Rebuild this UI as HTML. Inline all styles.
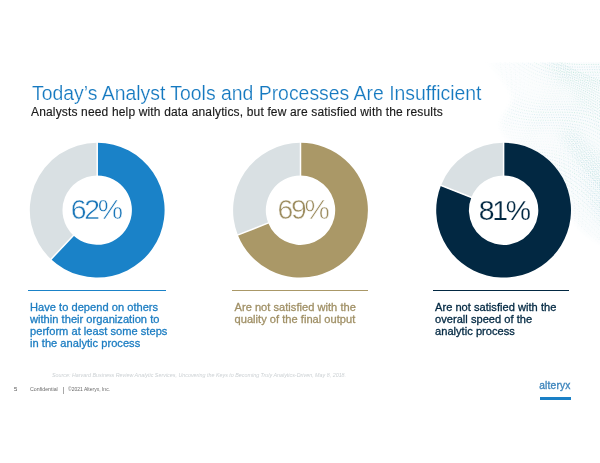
<!DOCTYPE html>
<html lang="en">
<head>
<meta charset="utf-8">
<title>Today's Analyst Tools and Processes Are Insufficient</title>
<style>
html,body{margin:0;padding:0;background:#fff;}
body{width:600px;height:463px;position:relative;overflow:hidden;font-family:"Liberation Sans",sans-serif;}
.abs{position:absolute;white-space:nowrap;}
#title{left:32px;top:81.2px;-webkit-text-stroke:0.2px #fff;font-size:19.4px;line-height:24px;color:#1579c0;letter-spacing:0px;}
#sub{left:31px;top:105px;font-size:12px;line-height:15px;color:#1a1a1a;letter-spacing:0.157px;-webkit-text-stroke-width:0.15px;}
.pct{font-size:28.4px;line-height:30px;top:194.4px;letter-spacing:-2.3px;-webkit-text-stroke:0.5px #fff;}
#p1{left:70.8px;color:#1a76b8;}
#p2{left:277.5px;color:#9c8c5f;}
#p3{left:478.8px;top:195.3px;color:#022842;-webkit-text-stroke:0.25px #fff;}
.rule{position:absolute;height:1.3px;top:290px;}
#r1{left:28px;width:137.5px;background:#1a82c8;}
#r2{left:232px;width:136px;background:#aa9867;}
#r3{left:432.8px;width:136.5px;background:#022842;}
.cap{font-size:11.1px;letter-spacing:0.02px;line-height:12px;top:300.6px;-webkit-text-stroke-width:0.3px;}
#c1{left:30px;color:#1c7dc2;}
#c2{left:234.5px;color:#a09066;}
#c3{left:435px;color:#022842;}
#src{left:52px;top:371.6px;font-size:5.37px;line-height:7px;font-style:italic;color:#ccd1d4;}
#pg{left:14px;top:384.9px;font-size:6px;line-height:8px;color:#555;}
#conf{left:30px;top:386px;font-size:5.25px;line-height:7px;color:#6a6a6a;}
#bar{left:62.4px;top:385.5px;font-size:7.4px;line-height:8px;color:#777;}
#copy{left:68px;top:386px;font-size:5px;line-height:7px;color:#6a6a6a;}
#logo{left:539.2px;top:379.6px;font-size:10.2px;line-height:12px;color:#3f86bd;letter-spacing:0.2px;-webkit-text-stroke-width:0.35px;}
#logobar{position:absolute;left:539.6px;top:396.6px;width:31.3px;height:3.2px;background:#1a80c6;}
svg{position:absolute;left:0;top:0;}
</style>
</head>
<body>
<svg width="600" height="463" viewBox="0 0 600 463">
<defs><filter id="bl" x="-20%" y="-20%" width="140%" height="140%"><feGaussianBlur stdDeviation="2.5"/></filter><filter id="bl2" x="-20%" y="-20%" width="140%" height="140%"><feGaussianBlur stdDeviation="6"/></filter><linearGradient id="mg" gradientUnits="userSpaceOnUse" x1="485" y1="0" x2="565" y2="0"><stop offset="0" stop-color="#777"/><stop offset="1" stop-color="#fff"/></linearGradient><mask id="wm" maskUnits="userSpaceOnUse" x="470" y="50" width="140" height="210"><path filter="url(#bl)" fill="url(#mg)" d="M488 60C493 72 509 84 512 96C514 108 500 114 500 126C503 140 520 150 540 165C556 180 568 215 582 230C590 238 600 243 610 246L610 50Z"/></mask><mask id="wm2" maskUnits="userSpaceOnUse" x="470" y="50" width="140" height="210"><path filter="url(#bl2)" fill="#fff" d="M540 55C560 80 580 105 612 135L612 55Z"/><path filter="url(#bl2)" fill="#fff" d="M560 135C572 150 585 180 590 200C594 215 600 225 612 232L612 165C600 155 585 140 575 130Z"/></mask><clipPath id="wc"><rect x="470" y="62.5" width="130" height="190"/></clipPath></defs>
<g clip-path="url(#wc)">
<g mask="url(#wm)">
<rect x="470" y="62.5" width="130" height="190" fill="#fafcfd"/>
<path d="M470.0 -23.8L478.3 -18.7L486.7 -12.5L495.0 -5.5L503.3 2.2L511.7 10.1L520.0 17.9L528.3 25.4L536.7 32.2L545.0 38.0L553.3 42.8L561.7 46.5L570.0 49.0L578.3 50.5L586.7 51.1L595.0 51.2L603.3 51.1L611.7 51.1L620.0 51.4" fill="none" stroke="#8fc4d6" stroke-width="0.8" stroke-dasharray="0.9 1.5" opacity="0.18"/>
<path d="M470.0 -20.0L478.3 -14.6L486.7 -8.2L495.0 -1.0L503.3 6.7L511.7 14.6L520.0 22.4L528.3 29.8L536.7 36.3L545.0 42.0L553.3 46.5L561.7 49.8L570.0 52.1L578.3 53.3L586.7 53.8L595.0 53.9L603.3 53.7L611.7 53.8L620.0 54.3" fill="none" stroke="#8fc4d6" stroke-width="0.8" stroke-dasharray="0.9 1.5" opacity="0.24"/>
<path d="M470.0 -16.1L478.3 -10.5L486.7 -3.8L495.0 3.5L503.3 11.3L511.7 19.2L520.0 26.9L528.3 34.1L536.7 40.5L545.0 45.8L553.3 50.1L561.7 53.1L570.0 55.1L578.3 56.2L586.7 56.5L595.0 56.5L603.3 56.4L611.7 56.5L620.0 57.2" fill="none" stroke="#86d2bd" stroke-width="0.8" stroke-dasharray="0.9 1.5" opacity="0.30"/>
<path d="M470.0 -12.2L478.3 -6.3L486.7 0.5L495.0 8.0L503.3 15.9L511.7 23.8L520.0 31.4L528.3 38.4L536.7 44.5L545.0 49.6L553.3 53.6L561.7 56.4L570.0 58.1L578.3 59.0L586.7 59.2L595.0 59.1L603.3 59.0L611.7 59.2L620.0 60.1" fill="none" stroke="#8fc4d6" stroke-width="0.8" stroke-dasharray="0.9 1.5" opacity="0.36"/>
<path d="M470.0 -8.2L478.3 -2.1L486.7 5.0L495.0 12.6L503.3 20.5L511.7 28.3L520.0 35.8L528.3 42.6L536.7 48.5L545.0 53.3L553.3 57.0L561.7 59.6L570.0 61.1L578.3 61.7L586.7 61.9L595.0 61.7L603.3 61.7L611.7 62.0L620.0 63.1" fill="none" stroke="#8fc4d6" stroke-width="0.8" stroke-dasharray="0.9 1.5" opacity="0.41"/>
<path d="M470.0 -4.1L478.3 2.2L486.7 9.4L495.0 17.1L503.3 25.0L511.7 32.8L520.0 40.2L528.3 46.8L536.7 52.4L545.0 57.0L553.3 60.4L561.7 62.7L570.0 63.9L578.3 64.5L586.7 64.5L595.0 64.4L603.3 64.4L611.7 64.9L620.0 66.2" fill="none" stroke="#86d2bd" stroke-width="0.8" stroke-dasharray="0.9 1.5" opacity="0.45"/>
<path d="M470.0 -0.0L478.3 6.6L486.7 13.9L495.0 21.7L503.3 29.6L511.7 37.3L520.0 44.5L528.3 50.9L536.7 56.3L545.0 60.6L553.3 63.7L561.7 65.7L570.0 66.8L578.3 67.2L586.7 67.1L595.0 67.0L603.3 67.1L611.7 67.8L620.0 69.3" fill="none" stroke="#8fc4d6" stroke-width="0.8" stroke-dasharray="0.9 1.5" opacity="0.48"/>
<path d="M470.0 4.1L478.3 10.9L486.7 18.4L495.0 26.3L503.3 34.2L511.7 41.8L520.0 48.8L528.3 55.0L536.7 60.1L545.0 64.1L553.3 66.9L561.7 68.7L570.0 69.6L578.3 69.8L586.7 69.7L595.0 69.6L603.3 69.9L611.7 70.7L620.0 72.4" fill="none" stroke="#8fc4d6" stroke-width="0.8" stroke-dasharray="0.9 1.5" opacity="0.48"/>
<path d="M470.0 8.4L478.3 15.4L486.7 22.9L495.0 30.8L503.3 38.7L511.7 46.2L520.0 53.0L528.3 59.0L536.7 63.8L545.0 67.6L553.3 70.1L561.7 71.7L570.0 72.4L578.3 72.5L586.7 72.4L595.0 72.3L603.3 72.7L611.7 73.7L620.0 75.7" fill="none" stroke="#86d2bd" stroke-width="0.8" stroke-dasharray="0.9 1.5" opacity="0.46"/>
<path d="M470.0 12.7L478.3 19.8L486.7 27.5L495.0 35.4L503.3 43.2L511.7 50.6L520.0 57.2L528.3 62.9L536.7 67.5L545.0 70.9L553.3 73.2L561.7 74.6L570.0 75.1L578.3 75.1L586.7 75.0L595.0 75.0L603.3 75.5L611.7 76.7L620.0 79.0" fill="none" stroke="#8fc4d6" stroke-width="0.8" stroke-dasharray="0.9 1.5" opacity="0.42"/>
<path d="M470.0 17.0L478.3 24.3L486.7 32.1L495.0 40.0L503.3 47.7L511.7 54.9L520.0 61.4L528.3 66.8L536.7 71.1L545.0 74.2L553.3 76.3L561.7 77.4L570.0 77.8L578.3 77.8L586.7 77.6L595.0 77.7L603.3 78.4L611.7 79.8L620.0 82.3" fill="none" stroke="#8fc4d6" stroke-width="0.8" stroke-dasharray="0.9 1.5" opacity="0.36"/>
<path d="M470.0 21.4L478.3 28.8L486.7 36.6L495.0 44.5L503.3 52.2L511.7 59.2L520.0 65.4L528.3 70.6L536.7 74.6L545.0 77.5L553.3 79.3L561.7 80.2L570.0 80.5L578.3 80.4L586.7 80.3L595.0 80.5L603.3 81.3L611.7 83.0L620.0 85.7" fill="none" stroke="#86d2bd" stroke-width="0.8" stroke-dasharray="0.9 1.5" opacity="0.30"/>
<path d="M470.0 25.8L478.3 33.3L486.7 41.2L495.0 49.1L503.3 56.6L511.7 63.5L520.0 69.4L528.3 74.3L536.7 78.1L545.0 80.7L553.3 82.3L561.7 83.0L570.0 83.1L578.3 83.0L586.7 82.9L595.0 83.3L603.3 84.3L611.7 86.2L620.0 89.2" fill="none" stroke="#8fc4d6" stroke-width="0.8" stroke-dasharray="0.9 1.5" opacity="0.24"/>
<path d="M470.0 30.2L478.3 37.9L486.7 45.8L495.0 53.6L503.3 61.0L511.7 67.7L520.0 73.4L528.3 78.0L536.7 81.5L545.0 83.8L553.3 85.2L561.7 85.7L570.0 85.8L578.3 85.6L586.7 85.6L595.0 86.1L603.3 87.3L611.7 89.5L620.0 92.8" fill="none" stroke="#8fc4d6" stroke-width="0.8" stroke-dasharray="0.9 1.5" opacity="0.19"/>
<path d="M470.0 34.7L478.3 42.5L486.7 50.4L495.0 58.1L503.3 65.3L511.7 71.8L520.0 77.3L528.3 81.6L536.7 84.8L545.0 86.9L553.3 88.0L561.7 88.4L570.0 88.4L578.3 88.3L586.7 88.3L595.0 89.0L603.3 90.4L611.7 92.9L620.0 96.4" fill="none" stroke="#86d2bd" stroke-width="0.8" stroke-dasharray="0.9 1.5" opacity="0.14"/>
<path d="M470.0 39.2L478.3 47.0L486.7 54.9L495.0 62.6L503.3 69.7L511.7 75.9L520.0 81.1L528.3 85.2L536.7 88.1L545.0 89.9L553.3 90.8L561.7 91.1L570.0 91.0L578.3 90.9L586.7 91.1L595.0 91.9L603.3 93.6L611.7 96.3L620.0 100.1" fill="none" stroke="#8fc4d6" stroke-width="0.8" stroke-dasharray="0.9 1.5" opacity="0.12"/>
<path d="M470.0 43.7L478.3 51.6L486.7 59.5L495.0 67.0L503.3 73.9L511.7 79.9L520.0 84.8L528.3 88.6L536.7 91.3L545.0 92.9L553.3 93.6L561.7 93.8L570.0 93.6L578.3 93.6L586.7 93.9L595.0 94.9L603.3 96.8L611.7 99.8L620.0 103.9" fill="none" stroke="#8fc4d6" stroke-width="0.8" stroke-dasharray="0.9 1.5" opacity="0.12"/>
<path d="M470.0 48.3L478.3 56.2L486.7 64.0L495.0 71.4L503.3 78.1L511.7 83.9L520.0 88.5L528.3 92.0L536.7 94.4L545.0 95.8L553.3 96.3L561.7 96.4L570.0 96.3L578.3 96.3L586.7 96.7L595.0 97.9L603.3 100.0L611.7 103.3L620.0 107.7" fill="none" stroke="#86d2bd" stroke-width="0.8" stroke-dasharray="0.9 1.5" opacity="0.14"/>
<path d="M470.0 52.8L478.3 60.8L486.7 68.5L495.0 75.8L503.3 82.3L511.7 87.8L520.0 92.1L528.3 95.3L536.7 97.5L545.0 98.6L553.3 99.0L561.7 99.0L570.0 98.9L578.3 99.0L586.7 99.6L595.0 101.0L603.3 103.4L611.7 106.9L620.0 111.6" fill="none" stroke="#8fc4d6" stroke-width="0.8" stroke-dasharray="0.9 1.5" opacity="0.18"/>
<path d="M470.0 57.4L478.3 65.3L486.7 73.0L495.0 80.1L503.3 86.3L511.7 91.6L520.0 95.7L528.3 98.6L536.7 100.5L545.0 101.4L553.3 101.7L561.7 101.7L570.0 101.5L578.3 101.7L586.7 102.5L595.0 104.1L603.3 106.8L611.7 110.6L620.0 115.6" fill="none" stroke="#8fc4d6" stroke-width="0.8" stroke-dasharray="0.9 1.5" opacity="0.24"/>
<path d="M470.0 62.0L478.3 69.9L486.7 77.4L495.0 84.3L503.3 90.4L511.7 95.3L520.0 99.1L528.3 101.8L536.7 103.4L545.0 104.2L553.3 104.4L561.7 104.3L570.0 104.2L578.3 104.5L586.7 105.5L595.0 107.3L603.3 110.3L611.7 114.4L620.0 119.6" fill="none" stroke="#86d2bd" stroke-width="0.8" stroke-dasharray="0.9 1.5" opacity="0.30"/>
<path d="M470.0 66.6L478.3 74.4L486.7 81.8L495.0 88.5L503.3 94.3L511.7 99.0L520.0 102.6L528.3 105.0L536.7 106.4L545.0 107.0L553.3 107.0L561.7 106.9L570.0 106.9L578.3 107.3L586.7 108.5L595.0 110.6L603.3 113.8L611.7 118.2L620.0 123.7" fill="none" stroke="#8fc4d6" stroke-width="0.8" stroke-dasharray="0.9 1.5" opacity="0.36"/>
<path d="M470.0 71.2L478.3 78.9L486.7 86.2L495.0 92.7L503.3 98.2L511.7 102.6L520.0 105.9L528.3 108.0L536.7 109.2L545.0 109.7L553.3 109.7L561.7 109.5L570.0 109.6L578.3 110.2L586.7 111.6L595.0 113.9L603.3 117.4L611.7 122.1L620.0 127.9" fill="none" stroke="#8fc4d6" stroke-width="0.8" stroke-dasharray="0.9 1.5" opacity="0.42"/>
<path d="M470.0 75.7L478.3 83.4L486.7 90.5L495.0 96.8L503.3 102.1L511.7 106.2L520.0 109.2L528.3 111.1L536.7 112.1L545.0 112.4L553.3 112.3L561.7 112.2L570.0 112.3L578.3 113.1L586.7 114.7L595.0 117.3L603.3 121.1L611.7 126.1L620.0 132.1" fill="none" stroke="#86d2bd" stroke-width="0.8" stroke-dasharray="0.9 1.5" opacity="0.46"/>
<path d="M470.0 80.3L478.3 87.8L486.7 94.8L495.0 100.8L503.3 105.8L511.7 109.7L520.0 112.4L528.3 114.0L536.7 114.8L545.0 115.0L553.3 114.9L561.7 114.8L570.0 115.1L578.3 116.0L586.7 117.9L595.0 120.8L603.3 124.9L611.7 130.1L620.0 136.3" fill="none" stroke="#8fc4d6" stroke-width="0.8" stroke-dasharray="0.9 1.5" opacity="0.48"/>
<path d="M470.0 84.8L478.3 92.2L486.7 99.0L495.0 104.8L503.3 109.5L511.7 113.1L520.0 115.5L528.3 117.0L536.7 117.6L545.0 117.7L553.3 117.5L561.7 117.5L570.0 117.9L578.3 119.1L586.7 121.1L595.0 124.3L603.3 128.7L611.7 134.2L620.0 140.6" fill="none" stroke="#8fc4d6" stroke-width="0.8" stroke-dasharray="0.9 1.5" opacity="0.48"/>
<path d="M470.0 89.3L478.3 96.6L486.7 103.1L495.0 108.7L503.3 113.2L511.7 116.4L520.0 118.6L528.3 119.8L536.7 120.3L545.0 120.3L553.3 120.2L561.7 120.2L570.0 120.8L578.3 122.1L586.7 124.5L595.0 127.9L603.3 132.6L611.7 138.3L620.0 145.0" fill="none" stroke="#86d2bd" stroke-width="0.8" stroke-dasharray="0.9 1.5" opacity="0.46"/>
<path d="M470.0 93.8L478.3 100.9L486.7 107.2L495.0 112.5L503.3 116.7L511.7 119.7L520.0 121.7L528.3 122.7L536.7 123.0L545.0 122.9L553.3 122.8L561.7 122.9L570.0 123.7L578.3 125.3L586.7 127.9L595.0 131.6L603.3 136.5L611.7 142.5L620.0 149.4" fill="none" stroke="#8fc4d6" stroke-width="0.8" stroke-dasharray="0.9 1.5" opacity="0.41"/>
<path d="M470.0 98.2L478.3 105.2L486.7 111.3L495.0 116.3L503.3 120.2L511.7 122.9L520.0 124.6L528.3 125.5L536.7 125.7L545.0 125.5L553.3 125.5L561.7 125.7L570.0 126.6L578.3 128.4L586.7 131.3L595.0 135.4L603.3 140.5L611.7 146.8L620.0 153.8" fill="none" stroke="#8fc4d6" stroke-width="0.8" stroke-dasharray="0.9 1.5" opacity="0.36"/>
<path d="M470.0 102.6L478.3 109.4L486.7 115.3L495.0 120.0L503.3 123.6L511.7 126.1L520.0 127.6L528.3 128.2L536.7 128.3L545.0 128.2L553.3 128.1L561.7 128.5L570.0 129.6L578.3 131.7L586.7 134.9L595.0 139.2L603.3 144.6L611.7 151.0L620.0 158.3" fill="none" stroke="#86d2bd" stroke-width="0.8" stroke-dasharray="0.9 1.5" opacity="0.30"/>
<path d="M470.0 107.0L478.3 113.6L486.7 119.2L495.0 123.7L503.3 127.0L511.7 129.2L520.0 130.4L528.3 130.9L536.7 130.9L545.0 130.8L553.3 130.8L561.7 131.4L570.0 132.7L578.3 135.0L586.7 138.5L595.0 143.0L603.3 148.7L611.7 155.4L620.0 162.8" fill="none" stroke="#8fc4d6" stroke-width="0.8" stroke-dasharray="0.9 1.5" opacity="0.24"/>
<path d="M470.0 111.3L478.3 117.7L486.7 123.0L495.0 127.2L503.3 130.3L511.7 132.2L520.0 133.3L528.3 133.6L536.7 133.6L545.0 133.4L553.3 133.6L561.7 134.3L570.0 135.8L578.3 138.4L586.7 142.1L595.0 147.0L603.3 152.9L611.7 159.8L620.0 167.3" fill="none" stroke="#8fc4d6" stroke-width="0.8" stroke-dasharray="0.9 1.5" opacity="0.18"/>
<path d="M470.0 115.6L478.3 121.7L486.7 126.8L495.0 130.7L503.3 133.5L511.7 135.2L520.0 136.1L528.3 136.3L536.7 136.2L545.0 136.1L553.3 136.3L561.7 137.2L570.0 139.0L578.3 141.9L586.7 145.9L595.0 151.0L603.3 157.2L611.7 164.2L620.0 171.8" fill="none" stroke="#86d2bd" stroke-width="0.8" stroke-dasharray="0.9 1.5" opacity="0.14"/>
<path d="M470.0 119.9L478.3 125.7L486.7 130.5L495.0 134.2L503.3 136.7L511.7 138.2L520.0 138.8L528.3 138.9L536.7 138.8L545.0 138.8L553.3 139.1L561.7 140.2L570.0 142.2L578.3 145.4L586.7 149.7L595.0 155.1L603.3 161.5L611.7 168.7L620.0 176.4" fill="none" stroke="#8fc4d6" stroke-width="0.8" stroke-dasharray="0.9 1.5" opacity="0.12"/>
<path d="M470.0 124.0L478.3 129.7L486.7 134.2L495.0 137.5L503.3 139.8L511.7 141.0L520.0 141.5L528.3 141.6L536.7 141.4L545.0 141.5L553.3 142.0L561.7 143.3L570.0 145.6L578.3 149.0L586.7 153.5L595.0 159.2L603.3 165.8L611.7 173.2L620.0 181.0" fill="none" stroke="#8fc4d6" stroke-width="0.8" stroke-dasharray="0.9 1.5" opacity="0.12"/>
<path d="M470.0 128.1L478.3 133.5L486.7 137.8L495.0 140.8L503.3 142.8L511.7 143.9L520.0 144.2L528.3 144.2L536.7 144.1L545.0 144.2L553.3 144.9L561.7 146.4L570.0 148.9L578.3 152.6L586.7 157.5L595.0 163.4L603.3 170.2L611.7 177.7L620.0 185.5" fill="none" stroke="#86d2bd" stroke-width="0.8" stroke-dasharray="0.9 1.5" opacity="0.15"/>
<path d="M470.0 132.2L478.3 137.3L486.7 141.3L495.0 144.1L503.3 145.8L511.7 146.7L520.0 146.9L528.3 146.8L536.7 146.7L545.0 146.9L553.3 147.8L561.7 149.6L570.0 152.4L578.3 156.3L586.7 161.5L595.0 167.6L603.3 174.6L611.7 182.2L620.0 190.1" fill="none" stroke="#8fc4d6" stroke-width="0.8" stroke-dasharray="0.9 1.5" opacity="0.19"/>
<path d="M470.0 136.2L478.3 141.0L486.7 144.7L495.0 147.2L503.3 148.8L511.7 149.4L520.0 149.6L528.3 149.4L536.7 149.4L545.0 149.7L553.3 150.8L561.7 152.8L570.0 155.9L578.3 160.1L586.7 165.5L595.0 171.9L603.3 179.1L611.7 186.8L620.0 194.7" fill="none" stroke="#8fc4d6" stroke-width="0.8" stroke-dasharray="0.9 1.5" opacity="0.24"/>
<path d="M470.0 140.1L478.3 144.7L486.7 148.1L495.0 150.4L503.3 151.7L511.7 152.2L520.0 152.2L528.3 152.1L536.7 152.1L545.0 152.6L553.3 153.9L561.7 156.1L570.0 159.5L578.3 164.0L586.7 169.6L595.0 176.2L603.3 183.6L611.7 191.3L620.0 199.3" fill="none" stroke="#86d2bd" stroke-width="0.8" stroke-dasharray="0.9 1.5" opacity="0.30"/>
<path d="M470.0 144.0L478.3 148.3L486.7 151.4L495.0 153.4L503.3 154.5L511.7 154.9L520.0 154.8L528.3 154.7L536.7 154.8L545.0 155.5L553.3 157.0L561.7 159.5L570.0 163.1L578.3 167.9L586.7 173.8L595.0 180.6L603.3 188.1L611.7 195.9L620.0 203.8" fill="none" stroke="#8fc4d6" stroke-width="0.8" stroke-dasharray="0.9 1.5" opacity="0.36"/>
<path d="M470.0 147.8L478.3 151.8L486.7 154.6L495.0 156.4L503.3 157.3L511.7 157.5L520.0 157.4L528.3 157.3L536.7 157.6L545.0 158.4L553.3 160.1L561.7 162.9L570.0 166.8L578.3 171.9L586.7 178.0L595.0 185.0L603.3 192.6L611.7 200.5L620.0 208.4" fill="none" stroke="#8fc4d6" stroke-width="0.8" stroke-dasharray="0.9 1.5" opacity="0.42"/>
<path d="M470.0 151.5L478.3 155.2L486.7 157.8L495.0 159.4L503.3 160.1L511.7 160.2L520.0 160.1L528.3 160.0L536.7 160.4L545.0 161.4L553.3 163.4L561.7 166.4L570.0 170.6L578.3 176.0L586.7 182.3L595.0 189.5L603.3 197.2L611.7 205.1L620.0 212.9" fill="none" stroke="#86d2bd" stroke-width="0.8" stroke-dasharray="0.9 1.5" opacity="0.46"/>
<path d="M470.0 155.2L478.3 158.6L486.7 160.9L495.0 162.3L503.3 162.8L511.7 162.8L520.0 162.7L528.3 162.7L536.7 163.2L545.0 164.4L553.3 166.6L561.7 170.0L570.0 174.5L578.3 180.1L586.7 186.6L595.0 194.0L603.3 201.7L611.7 209.7L620.0 217.4" fill="none" stroke="#8fc4d6" stroke-width="0.8" stroke-dasharray="0.9 1.5" opacity="0.48"/>
<path d="M470.0 158.8L478.3 161.9L486.7 164.0L495.0 165.1L503.3 165.5L511.7 165.5L520.0 165.3L528.3 165.4L536.7 166.1L545.0 167.5L553.3 170.0L561.7 173.6L570.0 178.4L578.3 184.2L586.7 191.0L595.0 198.5L603.3 206.3L611.7 214.2L620.0 221.8" fill="none" stroke="#8fc4d6" stroke-width="0.8" stroke-dasharray="0.9 1.5" opacity="0.48"/>
<path d="M470.0 162.3L478.3 165.2L486.7 167.0L495.0 167.9L503.3 168.2L511.7 168.1L520.0 168.0L528.3 168.2L536.7 169.0L545.0 170.7L553.3 173.4L561.7 177.3L570.0 182.4L578.3 188.5L586.7 195.4L595.0 203.0L603.3 210.9L611.7 218.8L620.0 226.3" fill="none" stroke="#86d2bd" stroke-width="0.8" stroke-dasharray="0.9 1.5" opacity="0.45"/>
<path d="M470.0 165.8L478.3 168.4L486.7 170.0L495.0 170.7L503.3 170.8L511.7 170.7L520.0 170.6L528.3 171.0L536.7 172.0L545.0 173.9L553.3 176.9L561.7 181.1L570.0 186.4L578.3 192.7L586.7 199.9L595.0 207.6L603.3 215.5L611.7 223.3L620.0 230.7" fill="none" stroke="#8fc4d6" stroke-width="0.8" stroke-dasharray="0.9 1.5" opacity="0.41"/>
<path d="M470.0 169.2L478.3 171.5L486.7 172.9L495.0 173.4L503.3 173.5L511.7 173.3L520.0 173.3L528.3 173.8L536.7 175.0L545.0 177.2L553.3 180.5L561.7 184.9L570.0 190.5L578.3 197.1L586.7 204.4L595.0 212.1L603.3 220.0L611.7 227.8L620.0 235.0" fill="none" stroke="#8fc4d6" stroke-width="0.8" stroke-dasharray="0.9 1.5" opacity="0.36"/>
<path d="M470.0 172.5L478.3 174.6L486.7 175.7L495.0 176.1L503.3 176.1L511.7 176.0L520.0 176.0L528.3 176.7L536.7 178.1L545.0 180.5L553.3 184.1L561.7 188.9L570.0 194.7L578.3 201.4L586.7 208.9L595.0 216.7L603.3 224.6L611.7 232.2L620.0 239.3" fill="none" stroke="#86d2bd" stroke-width="0.8" stroke-dasharray="0.9 1.5" opacity="0.30"/>
<path d="M470.0 175.8L478.3 177.6L486.7 178.5L495.0 178.8L503.3 178.7L511.7 178.6L520.0 178.8L528.3 179.6L536.7 181.3L545.0 184.0L553.3 187.8L561.7 192.8L570.0 198.9L578.3 205.8L586.7 213.4L595.0 221.3L603.3 229.1L611.7 236.7L620.0 243.6" fill="none" stroke="#8fc4d6" stroke-width="0.8" stroke-dasharray="0.9 1.5" opacity="0.23"/>
<path d="M470.0 178.9L478.3 180.6L486.7 181.3L495.0 181.5L503.3 181.3L511.7 181.3L520.0 181.6L528.3 182.6L536.7 184.5L545.0 187.4L553.3 191.6L561.7 196.9L570.0 203.2L578.3 210.3L586.7 217.9L595.0 225.9L603.3 233.7L611.7 241.1L620.0 247.8" fill="none" stroke="#8fc4d6" stroke-width="0.8" stroke-dasharray="0.9 1.5" opacity="0.18"/>
<path d="M470.0 182.1L478.3 183.5L486.7 184.0L495.0 184.1L503.3 184.0L511.7 184.0L520.0 184.4L528.3 185.6L536.7 187.7L545.0 191.0L553.3 195.4L561.7 201.0L570.0 207.5L578.3 214.7L586.7 222.5L595.0 230.4L603.3 238.2L611.7 245.4L620.0 251.9" fill="none" stroke="#86d2bd" stroke-width="0.8" stroke-dasharray="0.9 1.5" opacity="0.14"/>
<path d="M470.0 185.2L478.3 186.3L486.7 186.7L495.0 186.7L503.3 186.6L511.7 186.7L520.0 187.3L528.3 188.7L536.7 191.1L545.0 194.6L553.3 199.3L561.7 205.1L570.0 211.8L578.3 219.3L586.7 227.1L595.0 235.0L603.3 242.6L611.7 249.7L620.0 256.0" fill="none" stroke="#8fc4d6" stroke-width="0.8" stroke-dasharray="0.9 1.5" opacity="0.12"/>
<path d="M470.0 188.2L478.3 189.1L486.7 189.4L495.0 189.4L503.3 189.2L511.7 189.4L520.0 190.2L528.3 191.8L536.7 194.5L545.0 198.3L553.3 203.3L561.7 209.3L570.0 216.2L578.3 223.8L586.7 231.7L595.0 239.5L603.3 247.1L611.7 254.0L620.0 260.0" fill="none" stroke="#8fc4d6" stroke-width="0.8" stroke-dasharray="0.9 1.5" opacity="0.12"/>
<path d="M470.0 191.1L478.3 191.9L486.7 192.1L495.0 192.0L503.3 191.9L511.7 192.2L520.0 193.2L528.3 195.0L536.7 198.0L545.0 202.1L553.3 207.3L561.7 213.6L570.0 220.7L578.3 228.3L586.7 236.2L595.0 244.1L603.3 251.5L611.7 258.2L620.0 264.0" fill="none" stroke="#86d2bd" stroke-width="0.8" stroke-dasharray="0.9 1.5" opacity="0.15"/>
<path d="M470.0 194.1L478.3 194.7L486.7 194.7L495.0 194.6L503.3 194.6L511.7 195.0L520.0 196.2L528.3 198.3L536.7 201.5L545.0 205.9L553.3 211.4L561.7 217.9L570.0 225.1L578.3 232.9L586.7 240.8L595.0 248.6L603.3 255.8L611.7 262.4L620.0 267.9" fill="none" stroke="#8fc4d6" stroke-width="0.8" stroke-dasharray="0.9 1.5" opacity="0.19"/>
<path d="M470.0 196.9L478.3 197.4L486.7 197.4L495.0 197.2L503.3 197.3L511.7 197.9L520.0 199.2L528.3 201.6L536.7 205.1L545.0 209.8L553.3 215.5L561.7 222.2L570.0 229.6L578.3 237.5L586.7 245.4L595.0 253.0L603.3 260.2L611.7 266.4L620.0 271.7" fill="none" stroke="#8fc4d6" stroke-width="0.8" stroke-dasharray="0.9 1.5" opacity="0.24"/>
<path d="M470.0 199.8L478.3 200.1L486.7 200.0L495.0 199.9L503.3 200.0L511.7 200.8L520.0 202.4L528.3 205.0L536.7 208.8L545.0 213.7L553.3 219.7L561.7 226.6L570.0 234.2L578.3 242.0L586.7 249.9L595.0 257.5L603.3 264.4L611.7 270.5L620.0 275.5" fill="none" stroke="#86d2bd" stroke-width="0.8" stroke-dasharray="0.9 1.5" opacity="0.31"/>
<path d="M470.0 202.5L478.3 202.7L486.7 202.6L495.0 202.5L503.3 202.8L511.7 203.7L520.0 205.6L528.3 208.5L536.7 212.6L545.0 217.8L553.3 224.0L561.7 231.1L570.0 238.7L578.3 246.6L586.7 254.5L595.0 261.9L603.3 268.6L611.7 274.4L620.0 279.2" fill="none" stroke="#8fc4d6" stroke-width="0.8" stroke-dasharray="0.9 1.5" opacity="0.37"/>
<path d="M470.0 205.3L478.3 205.4L486.7 205.2L495.0 205.2L503.3 205.6L511.7 206.8L520.0 208.8L528.3 212.0L536.7 216.4L545.0 221.8L553.3 228.3L561.7 235.5L570.0 243.3L578.3 251.2L586.7 259.0L595.0 266.3L603.3 272.8L611.7 278.4L620.0 282.8" fill="none" stroke="#8fc4d6" stroke-width="0.8" stroke-dasharray="0.9 1.5" opacity="0.42"/>
<path d="M470.0 208.0L478.3 208.0L486.7 207.9L495.0 207.9L503.3 208.5L511.7 209.8L520.0 212.2L528.3 215.6L536.7 220.3L545.0 226.0L553.3 232.7L561.7 240.0L570.0 247.9L578.3 255.8L586.7 263.4L595.0 270.6L603.3 276.9L611.7 282.2L620.0 286.4" fill="none" stroke="#86d2bd" stroke-width="0.8" stroke-dasharray="0.9 1.5" opacity="0.46"/>
<path d="M470.0 210.7L478.3 210.6L486.7 210.5L495.0 210.6L503.3 211.4L511.7 212.9L520.0 215.6L528.3 219.3L536.7 224.2L545.0 230.2L553.3 237.0L561.7 244.6L570.0 252.4L578.3 260.3L586.7 267.9L595.0 274.9L603.3 280.9L611.7 286.0L620.0 289.9" fill="none" stroke="#8fc4d6" stroke-width="0.8" stroke-dasharray="0.9 1.5" opacity="0.48"/>
<path d="M470.0 213.4L478.3 213.2L486.7 213.2L495.0 213.4L503.3 214.3L511.7 216.1L520.0 219.0L528.3 223.0L536.7 228.2L545.0 234.4L553.3 241.5L561.7 249.1L570.0 257.0L578.3 264.9L586.7 272.3L595.0 279.1L603.3 284.9L611.7 289.7L620.0 293.3" fill="none" stroke="#8fc4d6" stroke-width="0.8" stroke-dasharray="0.9 1.5" opacity="0.48"/>
<path d="M500.0 62.0L501.7 72.6L503.0 83.1L503.4 93.7L502.8 104.2L500.8 114.8L497.6 125.3L493.1 135.9L487.7 146.4L481.7 157.0L475.5 167.6L469.5 178.1L464.3 188.7L460.0 199.2L456.9 209.8L455.2 220.3L454.7 230.9L455.3 241.4L456.6 252.0" fill="none" stroke="#93d8c6" stroke-width="0.6" stroke-dasharray="0.7 1.8" opacity="0.34"/>
<path d="M504.7 62.0L506.3 72.6L507.4 83.1L507.6 93.7L506.6 104.2L504.3 114.8L500.7 125.3L495.9 135.9L490.3 146.4L484.2 157.0L478.0 167.6L472.2 178.1L467.2 188.7L463.2 199.2L460.5 209.8L459.1 220.3L459.0 230.9L459.8 241.4L461.3 252.0" fill="none" stroke="#9ccbd9" stroke-width="0.6" stroke-dasharray="0.7 1.8" opacity="0.36"/>
<path d="M509.3 62.0L510.9 72.6L511.7 83.1L511.6 93.7L510.3 104.2L507.6 114.8L503.7 125.3L498.7 135.9L492.9 146.4L486.7 157.0L480.6 167.6L475.0 178.1L470.2 188.7L466.5 199.2L464.2 209.8L463.2 220.3L463.3 230.9L464.3 241.4L466.0 252.0" fill="none" stroke="#93d8c6" stroke-width="0.6" stroke-dasharray="0.7 1.8" opacity="0.35"/>
<path d="M514.0 62.0L515.4 72.6L516.0 83.1L515.6 93.7L513.9 104.2L510.9 114.8L506.7 125.3L501.4 135.9L495.5 146.4L489.3 157.0L483.2 167.6L477.8 178.1L473.3 188.7L470.0 199.2L468.0 209.8L467.3 220.3L467.7 230.9L468.9 241.4L470.6 252.0" fill="none" stroke="#9ccbd9" stroke-width="0.6" stroke-dasharray="0.7 1.8" opacity="0.30"/>
<path d="M518.6 62.0L519.8 72.6L520.2 83.1L519.5 93.7L517.4 104.2L514.1 114.8L509.5 125.3L504.0 135.9L498.0 146.4L491.8 157.0L485.9 167.6L480.7 178.1L476.5 188.7L473.5 199.2L471.9 209.8L471.5 220.3L472.2 230.9L473.6 241.4L475.3 252.0" fill="none" stroke="#93d8c6" stroke-width="0.6" stroke-dasharray="0.7 1.8" opacity="0.24"/>
<path d="M523.2 62.0L524.2 72.6L524.3 83.1L523.2 93.7L520.8 104.2L517.1 114.8L512.3 125.3L506.7 135.9L500.5 146.4L494.4 157.0L488.6 167.6L483.6 178.1L479.7 188.7L477.1 199.2L475.9 209.8L475.8 220.3L476.7 230.9L478.2 241.4L480.0 252.0" fill="none" stroke="#9ccbd9" stroke-width="0.6" stroke-dasharray="0.7 1.8" opacity="0.17"/>
<path d="M527.8 62.0L528.6 72.6L528.4 83.1L526.9 93.7L524.2 104.2L520.1 114.8L515.1 125.3L509.2 135.9L503.0 146.4L496.9 157.0L491.4 167.6L486.7 178.1L483.1 188.7L480.9 199.2L479.9 209.8L480.1 220.3L481.3 230.9L482.9 241.4L484.6 252.0" fill="none" stroke="#93d8c6" stroke-width="0.6" stroke-dasharray="0.7 1.8" opacity="0.11"/>
<path d="M532.3 62.0L532.8 72.6L532.3 83.1L530.5 93.7L527.4 104.2L523.1 114.8L517.7 125.3L511.8 135.9L505.6 146.4L499.6 157.0L494.2 167.6L489.8 178.1L486.6 188.7L484.7 199.2L484.1 209.8L484.6 220.3L485.9 230.9L487.6 241.4L489.3 252.0" fill="none" stroke="#9ccbd9" stroke-width="0.6" stroke-dasharray="0.7 1.8" opacity="0.08"/>
<path d="M536.7 62.0L537.0 72.6L536.2 83.1L534.0 93.7L530.5 104.2L525.9 114.8L520.4 125.3L514.3 135.9L508.1 146.4L502.2 157.0L497.1 167.6L493.0 178.1L490.1 188.7L488.6 199.2L488.3 209.8L489.1 220.3L490.5 230.9L492.3 241.4L493.9 252.0" fill="none" stroke="#93d8c6" stroke-width="0.6" stroke-dasharray="0.7 1.8" opacity="0.09"/>
<path d="M541.1 62.0L541.1 72.6L539.9 83.1L537.4 93.7L533.6 104.2L528.7 114.8L523.0 125.3L516.8 135.9L510.7 146.4L505.0 157.0L500.1 167.6L496.3 178.1L493.8 188.7L492.6 199.2L492.6 209.8L493.6 220.3L495.2 230.9L496.9 241.4L498.4 252.0" fill="none" stroke="#9ccbd9" stroke-width="0.6" stroke-dasharray="0.7 1.8" opacity="0.12"/>
<path d="M545.4 62.0L545.1 72.6L543.6 83.1L540.7 93.7L536.6 104.2L531.4 114.8L525.5 125.3L519.3 135.9L513.3 146.4L507.7 157.0L503.1 167.6L499.7 178.1L497.5 188.7L496.7 199.2L497.0 209.8L498.2 220.3L499.8 230.9L501.6 241.4L502.9 252.0" fill="none" stroke="#93d8c6" stroke-width="0.6" stroke-dasharray="0.7 1.8" opacity="0.18"/>
<path d="M549.6 62.0L549.0 72.6L547.1 83.1L543.9 93.7L539.5 104.2L534.1 114.8L528.1 125.3L521.9 135.9L515.9 146.4L510.6 157.0L506.3 167.6L503.2 178.1L501.4 188.7L500.9 199.2L501.5 209.8L502.8 220.3L504.5 230.9L506.2 241.4L507.4 252.0" fill="none" stroke="#9ccbd9" stroke-width="0.6" stroke-dasharray="0.7 1.8" opacity="0.25"/>
<path d="M553.8 62.0L552.8 72.6L550.6 83.1L547.0 93.7L542.3 104.2L536.7 114.8L530.6 125.3L524.4 135.9L518.6 146.4L513.5 157.0L509.5 167.6L506.8 178.1L505.3 188.7L505.1 199.2L506.0 209.8L507.4 220.3L509.2 230.9L510.8 241.4L511.8 252.0" fill="none" stroke="#93d8c6" stroke-width="0.6" stroke-dasharray="0.7 1.8" opacity="0.31"/>
<path d="M557.8 62.0L556.6 72.6L553.9 83.1L550.0 93.7L545.1 104.2L539.3 114.8L533.1 125.3L527.0 135.9L521.3 146.4L516.5 157.0L512.8 167.6L510.4 178.1L509.4 188.7L509.5 199.2L510.5 209.8L512.1 220.3L513.9 230.9L515.3 241.4L516.1 252.0" fill="none" stroke="#9ccbd9" stroke-width="0.6" stroke-dasharray="0.7 1.8" opacity="0.35"/>
<path d="M561.8 62.0L560.2 72.6L557.2 83.1L553.0 93.7L547.8 104.2L541.8 114.8L535.6 125.3L529.6 135.9L524.1 146.4L519.6 157.0L516.3 167.6L514.2 178.1L513.5 188.7L513.9 199.2L515.1 209.8L516.8 220.3L518.5 230.9L519.8 241.4L520.3 252.0" fill="none" stroke="#93d8c6" stroke-width="0.6" stroke-dasharray="0.7 1.8" opacity="0.36"/>
<path d="M565.7 62.0L563.7 72.6L560.4 83.1L555.9 93.7L550.4 104.2L544.4 114.8L538.2 125.3L532.3 135.9L527.0 146.4L522.8 157.0L519.8 167.6L518.1 178.1L517.7 188.7L518.3 199.2L519.7 209.8L521.5 220.3L523.1 230.9L524.3 241.4L524.5 252.0" fill="none" stroke="#9ccbd9" stroke-width="0.6" stroke-dasharray="0.7 1.8" opacity="0.33"/>
<path d="M569.5 62.0L567.1 72.6L563.5 83.1L558.7 93.7L553.0 104.2L546.9 114.8L540.7 125.3L535.0 135.9L530.0 146.4L526.0 157.0L523.4 167.6L522.1 178.1L522.0 188.7L522.9 199.2L524.4 209.8L526.1 220.3L527.7 230.9L528.6 241.4L528.6 252.0" fill="none" stroke="#93d8c6" stroke-width="0.6" stroke-dasharray="0.7 1.8" opacity="0.28"/>
<path d="M573.2 62.0L570.5 72.6L566.5 83.1L561.4 93.7L555.6 104.2L549.4 114.8L543.3 125.3L537.7 135.9L533.0 146.4L529.4 157.0L527.1 167.6L526.1 178.1L526.3 188.7L527.4 199.2L529.1 209.8L530.8 220.3L532.2 230.9L532.9 241.4L532.6 252.0" fill="none" stroke="#9ccbd9" stroke-width="0.6" stroke-dasharray="0.7 1.8" opacity="0.21"/>
<path d="M576.8 62.0L573.7 72.6L569.4 83.1L564.1 93.7L558.2 104.2L552.0 114.8L545.9 125.3L540.5 135.9L536.1 146.4L532.9 157.0L530.9 167.6L530.3 178.1L530.7 188.7L532.0 199.2L533.7 209.8L535.4 220.3L536.7 230.9L537.1 241.4L536.5 252.0" fill="none" stroke="#93d8c6" stroke-width="0.6" stroke-dasharray="0.7 1.8" opacity="0.14"/>
<path d="M580.3 62.0L576.9 72.6L572.3 83.1L566.8 93.7L560.7 104.2L554.5 114.8L548.6 125.3L543.4 135.9L539.3 146.4L536.4 157.0L534.8 167.6L534.5 178.1L535.2 188.7L536.7 199.2L538.4 209.8L540.0 220.3L541.1 230.9L541.3 241.4L540.3 252.0" fill="none" stroke="#9ccbd9" stroke-width="0.6" stroke-dasharray="0.7 1.8" opacity="0.10"/>
<path d="M583.7 62.0L579.9 72.6L575.1 83.1L569.4 93.7L563.2 104.2L557.1 114.8L551.3 125.3L546.4 135.9L542.6 146.4L540.0 157.0L538.8 167.6L538.8 178.1L539.8 188.7L541.3 199.2L543.1 209.8L544.6 220.3L545.5 230.9L545.3 241.4L544.0 252.0" fill="none" stroke="#93d8c6" stroke-width="0.6" stroke-dasharray="0.7 1.8" opacity="0.08"/>
<path d="M587.0 62.0L582.9 72.6L577.8 83.1L571.9 93.7L565.7 104.2L559.6 114.8L554.1 125.3L549.5 135.9L546.0 146.4L543.8 157.0L542.9 167.6L543.2 178.1L544.3 188.7L546.0 199.2L547.7 209.8L549.1 220.3L549.7 230.9L549.3 241.4L547.6 252.0" fill="none" stroke="#9ccbd9" stroke-width="0.6" stroke-dasharray="0.7 1.8" opacity="0.10"/>
<path d="M590.2 62.0L585.8 72.6L580.5 83.1L574.5 93.7L568.3 104.2L562.3 114.8L556.9 125.3L552.6 135.9L549.4 146.4L547.6 157.0L547.1 167.6L547.6 178.1L549.0 188.7L550.7 199.2L552.4 209.8L553.6 220.3L553.9 230.9L553.2 241.4L551.1 252.0" fill="none" stroke="#93d8c6" stroke-width="0.6" stroke-dasharray="0.7 1.8" opacity="0.14"/>
<path d="M593.3 62.0L588.7 72.6L583.1 83.1L577.0 93.7L570.8 104.2L565.0 114.8L559.9 125.3L555.8 135.9L553.0 146.4L551.6 157.0L551.3 167.6L552.1 178.1L553.6 188.7L555.3 199.2L556.9 209.8L558.0 220.3L558.0 230.9L556.9 241.4L554.5 252.0" fill="none" stroke="#9ccbd9" stroke-width="0.6" stroke-dasharray="0.7 1.8" opacity="0.21"/>
<path d="M596.4 62.0L591.4 72.6L585.7 83.1L579.5 93.7L573.4 104.2L567.7 114.8L562.9 125.3L559.1 135.9L556.7 146.4L555.6 157.0L555.7 167.6L556.7 178.1L558.3 188.7L560.0 199.2L561.5 209.8L562.3 220.3L562.1 230.9L560.6 241.4L557.8 252.0" fill="none" stroke="#93d8c6" stroke-width="0.6" stroke-dasharray="0.7 1.8" opacity="0.28"/>
<path d="M599.3 62.0L594.1 72.6L588.2 83.1L582.0 93.7L576.0 104.2L570.5 114.8L565.9 125.3L562.5 135.9L560.5 146.4L559.7 157.0L560.0 167.6L561.3 178.1L562.9 188.7L564.7 199.2L566.0 209.8L566.5 220.3L566.0 230.9L564.2 241.4L561.1 252.0" fill="none" stroke="#9ccbd9" stroke-width="0.6" stroke-dasharray="0.7 1.8" opacity="0.33"/>
<path d="M602.2 62.0L596.8 72.6L590.8 83.1L584.6 93.7L578.6 104.2L573.4 114.8L569.1 125.3L566.1 135.9L564.3 146.4L563.9 157.0L564.5 167.6L565.9 178.1L567.6 188.7L569.3 199.2L570.4 209.8L570.7 220.3L569.8 230.9L567.7 241.4L564.2 252.0" fill="none" stroke="#93d8c6" stroke-width="0.6" stroke-dasharray="0.7 1.8" opacity="0.36"/>
<path d="M605.0 62.0L599.4 72.6L593.3 83.1L587.1 93.7L581.3 104.2L576.3 114.8L572.3 125.3L569.7 135.9L568.3 146.4L568.2 157.0L569.0 167.6L570.5 178.1L572.3 188.7L573.9 199.2L574.8 209.8L574.8 220.3L573.6 230.9L571.1 241.4L567.3 252.0" fill="none" stroke="#9ccbd9" stroke-width="0.6" stroke-dasharray="0.7 1.8" opacity="0.35"/>
<path d="M607.8 62.0L602.0 72.6L595.8 83.1L589.7 93.7L584.1 104.2L579.3 114.8L575.7 125.3L573.4 135.9L572.3 146.4L572.5 157.0L573.6 167.6L575.2 178.1L576.9 188.7L578.4 199.2L579.1 209.8L578.8 220.3L577.2 230.9L574.4 241.4L570.2 252.0" fill="none" stroke="#93d8c6" stroke-width="0.6" stroke-dasharray="0.7 1.8" opacity="0.31"/>
<path d="M610.5 62.0L604.5 72.6L598.3 83.1L592.3 93.7L586.9 104.2L582.4 114.8L579.1 125.3L577.2 135.9L576.5 146.4L576.9 157.0L578.2 167.6L579.9 178.1L581.6 188.7L582.9 199.2L583.3 209.8L582.7 220.3L580.8 230.9L577.6 241.4L573.1 252.0" fill="none" stroke="#9ccbd9" stroke-width="0.6" stroke-dasharray="0.7 1.8" opacity="0.25"/>
<path d="M613.1 62.0L607.1 72.6L600.9 83.1L595.0 93.7L589.8 104.2L585.6 114.8L582.7 125.3L581.1 135.9L580.7 146.4L581.4 157.0L582.8 167.6L584.6 178.1L586.2 188.7L587.3 199.2L587.5 209.8L586.5 220.3L584.3 230.9L580.7 241.4L576.0 252.0" fill="none" stroke="#93d8c6" stroke-width="0.6" stroke-dasharray="0.7 1.8" opacity="0.18"/>
<path d="M615.7 62.0L609.6 72.6L603.4 83.1L597.7 93.7L592.7 104.2L588.9 114.8L586.3 125.3L585.0 135.9L585.0 146.4L585.9 157.0L587.5 167.6L589.2 178.1L590.8 188.7L591.6 199.2L591.6 209.8L590.2 220.3L587.6 230.9L583.7 241.4L578.7 252.0" fill="none" stroke="#9ccbd9" stroke-width="0.6" stroke-dasharray="0.7 1.8" opacity="0.12"/>
<path d="M618.3 62.0L612.1 72.6L606.0 83.1L600.5 93.7L595.8 104.2L592.3 114.8L590.0 125.3L589.1 135.9L589.4 146.4L590.5 157.0L592.1 167.6L593.9 178.1L595.3 188.7L595.9 199.2L595.5 209.8L593.9 220.3L590.9 230.9L586.7 241.4L581.4 252.0" fill="none" stroke="#93d8c6" stroke-width="0.6" stroke-dasharray="0.7 1.8" opacity="0.09"/>
<path d="M620.8 62.0L614.6 72.6L608.7 83.1L603.3 93.7L598.9 104.2L595.7 114.8L593.9 125.3L593.3 135.9L593.8 146.4L595.1 157.0L596.8 167.6L598.5 178.1L599.7 188.7L600.1 199.2L599.4 209.8L597.4 220.3L594.1 230.9L589.5 241.4L584.1 252.0" fill="none" stroke="#9ccbd9" stroke-width="0.6" stroke-dasharray="0.7 1.8" opacity="0.08"/>
<path d="M623.4 62.0L617.2 72.6L611.3 83.1L606.2 93.7L602.1 104.2L599.3 114.8L597.8 125.3L597.5 135.9L598.3 146.4L599.7 157.0L601.5 167.6L603.1 178.1L604.1 188.7L604.3 199.2L603.2 209.8L600.8 220.3L597.1 230.9L592.3 241.4L586.7 252.0" fill="none" stroke="#93d8c6" stroke-width="0.6" stroke-dasharray="0.7 1.8" opacity="0.11"/>
<path d="M625.9 62.0L619.8 72.6L614.1 83.1L609.2 93.7L605.4 104.2L603.0 114.8L601.8 125.3L601.8 135.9L602.8 146.4L604.4 157.0L606.2 167.6L607.7 178.1L608.5 188.7L608.3 199.2L606.9 209.8L604.1 220.3L600.1 230.9L595.1 241.4L589.3 252.0" fill="none" stroke="#9ccbd9" stroke-width="0.6" stroke-dasharray="0.7 1.8" opacity="0.17"/>
<path d="M628.4 62.0L622.4 72.6L616.8 83.1L612.2 93.7L608.8 104.2L606.7 114.8L605.9 125.3L606.2 135.9L607.4 146.4L609.1 157.0L610.8 167.6L612.2 178.1L612.7 188.7L612.2 199.2L610.5 209.8L607.4 220.3L603.1 230.9L597.8 241.4L591.8 252.0" fill="none" stroke="#93d8c6" stroke-width="0.6" stroke-dasharray="0.7 1.8" opacity="0.24"/>
<path d="M631.0 62.0L625.0 72.6L619.7 83.1L615.4 93.7L612.3 104.2L610.6 114.8L610.1 125.3L610.7 135.9L612.0 146.4L613.8 157.0L615.4 167.6L616.6 178.1L616.9 188.7L616.1 199.2L614.0 209.8L610.5 220.3L605.9 230.9L600.4 241.4L594.3 252.0" fill="none" stroke="#9ccbd9" stroke-width="0.6" stroke-dasharray="0.7 1.8" opacity="0.30"/>
</g>
<g mask="url(#wm2)">
<path d="M520.0 30.0L526.4 36.0L532.9 41.8L539.3 47.4L545.7 52.6L552.1 57.4L558.6 61.7L565.0 65.5L571.4 68.8L577.9 71.8L584.3 74.5L590.7 77.1L597.1 79.7L603.6 82.5L610.0 85.5" fill="none" stroke="#74c7b4" stroke-width="0.8" stroke-dasharray="0.9 1.3" opacity="0.42"/>
<path d="M520.0 33.1L526.4 39.1L532.9 44.9L539.3 50.4L545.7 55.5L552.1 60.1L558.6 64.3L565.0 68.0L571.4 71.2L577.9 74.2L584.3 76.9L590.7 79.5L597.1 82.2L603.6 85.0L610.0 88.2" fill="none" stroke="#74c7b4" stroke-width="0.8" stroke-dasharray="0.9 1.3" opacity="0.42"/>
<path d="M520.0 36.2L526.4 42.2L532.9 47.9L539.3 53.3L545.7 58.3L552.1 62.8L558.6 66.9L565.0 70.5L571.4 73.6L577.9 76.5L584.3 79.2L590.7 81.9L597.1 84.6L603.6 87.6L610.0 91.0" fill="none" stroke="#74c7b4" stroke-width="0.8" stroke-dasharray="0.9 1.3" opacity="0.42"/>
<path d="M520.0 39.3L526.4 45.2L532.9 50.9L539.3 56.2L545.7 61.1L552.1 65.5L558.6 69.4L565.0 72.9L571.4 76.0L577.9 78.8L584.3 81.5L590.7 84.3L597.1 87.1L603.6 90.3L610.0 93.8" fill="none" stroke="#74c7b4" stroke-width="0.8" stroke-dasharray="0.9 1.3" opacity="0.42"/>
<path d="M520.0 42.3L526.4 48.3L532.9 53.9L539.3 59.1L545.7 63.8L552.1 68.1L558.6 71.9L565.0 75.3L571.4 78.3L577.9 81.1L584.3 83.9L590.7 86.7L597.1 89.7L603.6 93.0L610.0 96.7" fill="none" stroke="#74c7b4" stroke-width="0.8" stroke-dasharray="0.9 1.3" opacity="0.42"/>
<path d="M520.0 45.4L526.4 51.2L532.9 56.8L539.3 61.9L545.7 66.5L552.1 70.6L558.6 74.3L565.0 77.6L571.4 80.6L577.9 83.4L584.3 86.2L590.7 89.1L597.1 92.3L603.6 95.7L610.0 99.6" fill="none" stroke="#74c7b4" stroke-width="0.8" stroke-dasharray="0.9 1.3" opacity="0.42"/>
<path d="M520.0 48.4L526.4 54.2L532.9 59.6L539.3 64.6L545.7 69.1L552.1 73.1L558.6 76.7L565.0 79.9L571.4 82.9L577.9 85.7L584.3 88.6L590.7 91.6L597.1 94.9L603.6 98.5L610.0 102.6" fill="none" stroke="#74c7b4" stroke-width="0.8" stroke-dasharray="0.9 1.3" opacity="0.42"/>
<path d="M520.0 51.4L526.4 57.1L532.9 62.4L539.3 67.3L545.7 71.6L552.1 75.5L558.6 79.0L565.0 82.2L571.4 85.1L577.9 88.0L584.3 90.9L590.7 94.1L597.1 97.5L603.6 101.4L610.0 105.7" fill="none" stroke="#74c7b4" stroke-width="0.8" stroke-dasharray="0.9 1.3" opacity="0.42"/>
<path d="M520.0 54.3L526.4 59.9L532.9 65.1L539.3 69.9L545.7 74.1L552.1 77.9L558.6 81.3L565.0 84.4L571.4 87.4L577.9 90.3L584.3 93.3L590.7 96.6L597.1 100.2L603.6 104.3L610.0 108.8" fill="none" stroke="#74c7b4" stroke-width="0.8" stroke-dasharray="0.9 1.3" opacity="0.42"/>
<path d="M520.0 57.2L526.4 62.7L532.9 67.8L539.3 72.4L545.7 76.5L552.1 80.2L558.6 83.5L565.0 86.6L571.4 89.6L577.9 92.6L584.3 95.7L590.7 99.2L597.1 103.0L603.6 107.3L610.0 112.0" fill="none" stroke="#74c7b4" stroke-width="0.8" stroke-dasharray="0.9 1.3" opacity="0.42"/>
<path d="M520.0 60.0L526.4 65.5L532.9 70.4L539.3 74.9L545.7 78.9L552.1 82.5L558.6 85.8L565.0 88.8L571.4 91.9L577.9 94.9L584.3 98.2L590.7 101.8L597.1 105.8L603.6 110.3L610.0 115.2" fill="none" stroke="#74c7b4" stroke-width="0.8" stroke-dasharray="0.9 1.3" opacity="0.42"/>
<path d="M520.0 62.8L526.4 68.2L532.9 73.0L539.3 77.3L545.7 81.2L552.1 84.7L558.6 88.0L565.0 91.0L571.4 94.1L577.9 97.3L584.3 100.7L590.7 104.5L597.1 108.7L603.6 113.4L610.0 118.5" fill="none" stroke="#74c7b4" stroke-width="0.8" stroke-dasharray="0.9 1.3" opacity="0.42"/>
<path d="M520.0 65.6L526.4 70.8L532.9 75.5L539.3 79.7L545.7 83.5L552.1 86.9L558.6 90.2L565.0 93.2L571.4 96.4L577.9 99.7L584.3 103.2L590.7 107.2L597.1 111.6L603.6 116.5L610.0 121.9" fill="none" stroke="#74c7b4" stroke-width="0.8" stroke-dasharray="0.9 1.3" opacity="0.42"/>
<path d="M520.0 68.3L526.4 73.3L532.9 77.9L539.3 82.0L545.7 85.7L552.1 89.1L558.6 92.3L565.0 95.5L571.4 98.7L577.9 102.1L584.3 105.8L590.7 110.0L597.1 114.6L603.6 119.7L610.0 125.3" fill="none" stroke="#74c7b4" stroke-width="0.8" stroke-dasharray="0.9 1.3" opacity="0.42"/>
<path d="M520.0 70.9L526.4 75.8L532.9 80.3L539.3 84.3L545.7 87.9L552.1 91.3L558.6 94.5L565.0 97.7L571.4 101.0L577.9 104.5L584.3 108.5L590.7 112.8L597.1 117.7L603.6 123.0L610.0 128.8" fill="none" stroke="#74c7b4" stroke-width="0.8" stroke-dasharray="0.9 1.3" opacity="0.42"/>
<path d="M520.0 73.5L526.4 78.3L532.9 82.6L539.3 86.5L545.7 90.1L552.1 93.4L558.6 96.6L565.0 99.9L571.4 103.3L577.9 107.0L584.3 111.2L590.7 115.7L597.1 120.8L603.6 126.3L610.0 132.3" fill="none" stroke="#74c7b4" stroke-width="0.8" stroke-dasharray="0.9 1.3" opacity="0.42"/>
<path d="M520.0 76.0L526.4 80.7L532.9 84.9L539.3 88.7L545.7 92.2L552.1 95.5L558.6 98.8L565.0 102.1L571.4 105.7L577.9 109.6L584.3 113.9L590.7 118.7L597.1 124.0L603.6 129.7L610.0 135.8" fill="none" stroke="#74c7b4" stroke-width="0.8" stroke-dasharray="0.9 1.3" opacity="0.42"/>
<path d="M520.0 78.4L526.4 83.0L532.9 87.1L539.3 90.9L545.7 94.3L552.1 97.6L558.6 101.0L565.0 104.4L571.4 108.1L577.9 112.2L584.3 116.7L590.7 121.7L597.1 127.2L603.6 133.1L610.0 139.4" fill="none" stroke="#74c7b4" stroke-width="0.8" stroke-dasharray="0.9 1.3" opacity="0.42"/>
<path d="M520.0 80.8L526.4 85.3L532.9 89.3L539.3 93.0L545.7 96.4L552.1 99.8L558.6 103.2L565.0 106.7L571.4 110.6L577.9 114.9L584.3 119.6L590.7 124.8L597.1 130.5L603.6 136.6L610.0 143.0" fill="none" stroke="#74c7b4" stroke-width="0.8" stroke-dasharray="0.9 1.3" opacity="0.42"/>
<path d="M520.0 83.2L526.4 87.5L532.9 91.4L539.3 95.1L545.7 98.5L552.1 101.9L558.6 105.4L565.0 109.1L571.4 113.1L577.9 117.6L584.3 122.5L590.7 127.9L597.1 133.8L603.6 140.1L610.0 146.7" fill="none" stroke="#74c7b4" stroke-width="0.8" stroke-dasharray="0.9 1.3" opacity="0.42"/>
<path d="M520.0 85.5L526.4 89.7L532.9 93.5L539.3 97.1L545.7 100.6L552.1 104.0L558.6 107.6L565.0 111.5L571.4 115.7L577.9 120.3L584.3 125.5L590.7 131.1L597.1 137.2L603.6 143.6L610.0 150.3" fill="none" stroke="#74c7b4" stroke-width="0.8" stroke-dasharray="0.9 1.3" opacity="0.42"/>
<path d="M520.0 87.7L526.4 91.8L532.9 95.6L539.3 99.2L545.7 102.6L552.1 106.2L558.6 109.9L565.0 113.9L571.4 118.3L577.9 123.2L584.3 128.5L590.7 134.4L597.1 140.6L603.6 147.2L610.0 154.0" fill="none" stroke="#74c7b4" stroke-width="0.8" stroke-dasharray="0.9 1.3" opacity="0.42"/>
<path d="M520.0 89.9L526.4 93.9L532.9 97.6L539.3 101.2L545.7 104.7L552.1 108.3L558.6 112.2L565.0 116.4L571.4 121.0L577.9 126.1L584.3 131.6L590.7 137.7L597.1 144.1L603.6 150.8L610.0 157.7" fill="none" stroke="#74c7b4" stroke-width="0.8" stroke-dasharray="0.9 1.3" opacity="0.42"/>
<path d="M520.0 92.0L526.4 95.9L532.9 99.6L539.3 103.2L545.7 106.8L552.1 110.5L558.6 114.5L565.0 118.9L571.4 123.7L577.9 129.0L584.3 134.8L590.7 141.0L597.1 147.6L603.6 154.4L610.0 161.4" fill="none" stroke="#74c7b4" stroke-width="0.8" stroke-dasharray="0.9 1.3" opacity="0.42"/>
<path d="M520.0 94.1L526.4 98.0L532.9 101.6L539.3 105.3L545.7 108.9L552.1 112.8L558.6 116.9L565.0 121.5L571.4 126.5L577.9 132.0L584.3 138.0L590.7 144.4L597.1 151.1L603.6 158.1L610.0 165.1" fill="none" stroke="#74c7b4" stroke-width="0.8" stroke-dasharray="0.9 1.3" opacity="0.42"/>
<path d="M520.0 96.1L526.4 99.9L532.9 103.6L539.3 107.3L545.7 111.0L552.1 115.0L558.6 119.4L565.0 124.1L571.4 129.4L577.9 135.1L584.3 141.3L590.7 147.8L597.1 154.7L603.6 161.7L610.0 168.8" fill="none" stroke="#74c7b4" stroke-width="0.8" stroke-dasharray="0.9 1.3" opacity="0.42"/>
<path d="M520.0 98.1L526.4 101.9L532.9 105.6L539.3 109.3L545.7 113.2L552.1 117.3L558.6 121.9L565.0 126.8L571.4 132.3L577.9 138.2L584.3 144.6L590.7 151.3L597.1 158.3L603.6 165.4L610.0 172.5" fill="none" stroke="#74c7b4" stroke-width="0.8" stroke-dasharray="0.9 1.3" opacity="0.42"/>
<path d="M520.0 100.1L526.4 103.9L532.9 107.6L539.3 111.4L545.7 115.4L552.1 119.7L558.6 124.4L565.0 129.6L571.4 135.3L577.9 141.4L584.3 147.9L590.7 154.8L597.1 161.9L603.6 169.0L610.0 176.1" fill="none" stroke="#74c7b4" stroke-width="0.8" stroke-dasharray="0.9 1.3" opacity="0.42"/>
<path d="M520.0 102.0L526.4 105.8L532.9 109.6L539.3 113.5L545.7 117.6L552.1 122.1L558.6 127.0L565.0 132.4L571.4 138.3L577.9 144.6L584.3 151.3L590.7 158.3L597.1 165.5L603.6 172.7L610.0 179.8" fill="none" stroke="#74c7b4" stroke-width="0.8" stroke-dasharray="0.9 1.3" opacity="0.42"/>
<path d="M520.0 103.9L526.4 107.8L532.9 111.6L539.3 115.6L545.7 119.9L552.1 124.6L558.6 129.7L565.0 135.3L571.4 141.4L577.9 147.9L584.3 154.8L590.7 161.9L597.1 169.1L603.6 176.3L610.0 183.4" fill="none" stroke="#74c7b4" stroke-width="0.8" stroke-dasharray="0.9 1.3" opacity="0.42"/>
<path d="M520.0 105.8L526.4 109.7L532.9 113.6L539.3 117.8L545.7 122.2L552.1 127.1L558.6 132.4L565.0 138.2L571.4 144.5L577.9 151.2L584.3 158.2L590.7 165.4L597.1 172.7L603.6 179.9L610.0 186.9" fill="none" stroke="#74c7b4" stroke-width="0.8" stroke-dasharray="0.9 1.3" opacity="0.42"/>
<path d="M520.0 107.7L526.4 111.7L532.9 115.7L539.3 120.0L545.7 124.6L552.1 129.7L558.6 135.2L565.0 141.2L571.4 147.7L577.9 154.6L584.3 161.7L590.7 169.0L597.1 176.3L603.6 183.5L610.0 190.5" fill="none" stroke="#74c7b4" stroke-width="0.8" stroke-dasharray="0.9 1.3" opacity="0.42"/>
<path d="M520.0 109.6L526.4 113.6L532.9 117.8L539.3 122.2L545.7 127.0L552.1 132.3L558.6 138.1L565.0 144.3L571.4 151.0L577.9 158.0L584.3 165.2L590.7 172.6L597.1 179.9L603.6 187.1L610.0 194.0" fill="none" stroke="#74c7b4" stroke-width="0.8" stroke-dasharray="0.9 1.3" opacity="0.42"/>
<path d="M520.0 111.6L526.4 115.6L532.9 119.9L539.3 124.5L545.7 129.5L552.1 135.0L558.6 141.0L565.0 147.4L571.4 154.2L577.9 161.4L584.3 168.7L590.7 176.2L597.1 183.5L603.6 190.6L610.0 197.4" fill="none" stroke="#74c7b4" stroke-width="0.8" stroke-dasharray="0.9 1.3" opacity="0.42"/>
<path d="M551.0 125.0L555.1 133.2L558.9 141.4L562.5 149.6L565.7 157.9L568.5 166.1L570.9 174.3L572.7 182.5L574.2 190.7L575.2 198.9L575.9 207.1L576.2 215.4L576.4 223.6L576.4 231.8L576.4 240.0" fill="none" stroke="#7fbfd0" stroke-width="0.8" stroke-dasharray="0.9 1.3" opacity="0.40"/>
<path d="M553.7 125.0L557.8 133.2L561.6 141.4L565.1 149.6L568.2 157.9L570.9 166.1L573.1 174.3L574.9 182.5L576.2 190.7L577.2 198.9L577.8 207.1L578.1 215.4L578.2 223.6L578.2 231.8L578.2 240.0" fill="none" stroke="#7fbfd0" stroke-width="0.8" stroke-dasharray="0.9 1.3" opacity="0.40"/>
<path d="M556.5 125.0L560.5 133.2L564.3 141.4L567.7 149.6L570.7 157.9L573.3 166.1L575.4 174.3L577.1 182.5L578.3 190.7L579.1 198.9L579.7 207.1L579.9 215.4L580.0 223.6L580.0 231.8L580.0 240.0" fill="none" stroke="#7fbfd0" stroke-width="0.8" stroke-dasharray="0.9 1.3" opacity="0.40"/>
<path d="M559.2 125.0L563.2 133.2L566.9 141.4L570.2 149.6L573.1 157.9L575.6 166.1L577.6 174.3L579.2 182.5L580.3 190.7L581.1 198.9L581.5 207.1L581.8 215.4L581.8 223.6L581.8 231.8L581.9 240.0" fill="none" stroke="#7fbfd0" stroke-width="0.8" stroke-dasharray="0.9 1.3" opacity="0.40"/>
<path d="M562.0 125.0L565.9 133.2L569.5 141.4L572.7 149.6L575.5 157.9L577.9 166.1L579.8 174.3L581.3 182.5L582.3 190.7L583.0 198.9L583.4 207.1L583.6 215.4L583.6 223.6L583.6 231.8L583.7 240.0" fill="none" stroke="#7fbfd0" stroke-width="0.8" stroke-dasharray="0.9 1.3" opacity="0.40"/>
<path d="M564.7 125.0L568.6 133.2L572.1 141.4L575.2 149.6L577.9 157.9L580.2 166.1L582.0 174.3L583.4 182.5L584.3 190.7L584.9 198.9L585.3 207.1L585.4 215.4L585.4 223.6L585.4 231.8L585.5 240.0" fill="none" stroke="#7fbfd0" stroke-width="0.8" stroke-dasharray="0.9 1.3" opacity="0.40"/>
<path d="M567.4 125.0L571.2 133.2L574.7 141.4L577.7 149.6L580.3 157.9L582.5 166.1L584.2 174.3L585.4 182.5L586.3 190.7L586.8 198.9L587.1 207.1L587.2 215.4L587.2 223.6L587.2 231.8L587.4 240.0" fill="none" stroke="#7fbfd0" stroke-width="0.8" stroke-dasharray="0.9 1.3" opacity="0.40"/>
<path d="M570.2 125.0L573.8 133.2L577.2 141.4L580.1 149.6L582.7 157.9L584.7 166.1L586.3 174.3L587.5 182.5L588.3 190.7L588.7 198.9L588.9 207.1L589.0 215.4L589.0 223.6L589.1 231.8L589.2 240.0" fill="none" stroke="#7fbfd0" stroke-width="0.8" stroke-dasharray="0.9 1.3" opacity="0.40"/>
<path d="M572.8 125.0L576.5 133.2L579.7 141.4L582.6 149.6L585.0 157.9L586.9 166.1L588.4 174.3L589.5 182.5L590.2 190.7L590.6 198.9L590.8 207.1L590.8 215.4L590.8 223.6L590.9 231.8L591.1 240.0" fill="none" stroke="#7fbfd0" stroke-width="0.8" stroke-dasharray="0.9 1.3" opacity="0.40"/>
<path d="M575.5 125.0L579.1 133.2L582.2 141.4L585.0 149.6L587.3 157.9L589.1 166.1L590.5 174.3L591.5 182.5L592.1 190.7L592.5 198.9L592.6 207.1L592.6 215.4L592.6 223.6L592.7 231.8L593.0 240.0" fill="none" stroke="#7fbfd0" stroke-width="0.8" stroke-dasharray="0.9 1.3" opacity="0.40"/>
<path d="M578.2 125.0L581.6 133.2L584.7 141.4L587.3 149.6L589.5 157.9L591.3 166.1L592.6 174.3L593.5 182.5L594.0 190.7L594.3 198.9L594.4 207.1L594.4 215.4L594.4 223.6L594.6 231.8L594.9 240.0" fill="none" stroke="#7fbfd0" stroke-width="0.8" stroke-dasharray="0.9 1.3" opacity="0.40"/>
<path d="M580.8 125.0L584.2 133.2L587.2 141.4L589.7 149.6L591.8 157.9L593.4 166.1L594.6 174.3L595.4 182.5L595.9 190.7L596.1 198.9L596.2 207.1L596.2 215.4L596.3 223.6L596.4 231.8L596.8 240.0" fill="none" stroke="#7fbfd0" stroke-width="0.8" stroke-dasharray="0.9 1.3" opacity="0.40"/>
<path d="M583.4 125.0L586.7 133.2L589.6 141.4L592.0 149.6L594.0 157.9L595.5 166.1L596.6 174.3L597.4 182.5L597.8 190.7L598.0 198.9L598.0 207.1L598.0 215.4L598.1 223.6L598.3 231.8L598.7 240.0" fill="none" stroke="#7fbfd0" stroke-width="0.8" stroke-dasharray="0.9 1.3" opacity="0.40"/>
<path d="M586.0 125.0L589.2 133.2L592.0 141.4L594.3 149.6L596.2 157.9L597.6 166.1L598.6 174.3L599.3 182.5L599.6 190.7L599.8 198.9L599.8 207.1L599.8 215.4L599.9 223.6L600.2 231.8L600.7 240.0" fill="none" stroke="#7fbfd0" stroke-width="0.8" stroke-dasharray="0.9 1.3" opacity="0.40"/>
<path d="M588.6 125.0L591.7 133.2L594.4 141.4L596.6 149.6L598.4 157.9L599.7 166.1L600.6 174.3L601.2 182.5L601.5 190.7L601.6 198.9L601.6 207.1L601.6 215.4L601.7 223.6L602.1 231.8L602.6 240.0" fill="none" stroke="#7fbfd0" stroke-width="0.8" stroke-dasharray="0.9 1.3" opacity="0.40"/>
<path d="M591.2 125.0L594.2 133.2L596.7 141.4L598.9 149.6L600.5 157.9L601.7 166.1L602.6 174.3L603.1 182.5L603.3 190.7L603.4 198.9L603.4 207.1L603.4 215.4L603.6 223.6L604.0 231.8L604.6 240.0" fill="none" stroke="#7fbfd0" stroke-width="0.8" stroke-dasharray="0.9 1.3" opacity="0.40"/>
<path d="M593.7 125.0L596.6 133.2L599.1 141.4L601.1 149.6L602.6 157.9L603.8 166.1L604.5 174.3L605.0 182.5L605.2 190.7L605.2 198.9L605.2 207.1L605.3 215.4L605.5 223.6L605.9 231.8L606.6 240.0" fill="none" stroke="#7fbfd0" stroke-width="0.8" stroke-dasharray="0.9 1.3" opacity="0.40"/>
<path d="M596.2 125.0L599.0 133.2L601.4 141.4L603.3 149.6L604.7 157.9L605.8 166.1L606.4 174.3L606.8 182.5L607.0 190.7L607.0 198.9L607.0 207.1L607.1 215.4L607.3 223.6L607.8 231.8L608.6 240.0" fill="none" stroke="#7fbfd0" stroke-width="0.8" stroke-dasharray="0.9 1.3" opacity="0.40"/>
<path d="M598.7 125.0L601.4 133.2L603.7 141.4L605.5 149.6L606.8 157.9L607.8 166.1L608.4 174.3L608.7 182.5L608.8 190.7L608.8 198.9L608.8 207.1L608.9 215.4L609.2 223.6L609.8 231.8L610.7 240.0" fill="none" stroke="#7fbfd0" stroke-width="0.8" stroke-dasharray="0.9 1.3" opacity="0.40"/>
<path d="M601.2 125.0L603.8 133.2L605.9 141.4L607.6 149.6L608.9 157.9L609.7 166.1L610.3 174.3L610.5 182.5L610.6 190.7L610.6 198.9L610.6 207.1L610.8 215.4L611.1 223.6L611.8 231.8L612.8 240.0" fill="none" stroke="#7fbfd0" stroke-width="0.8" stroke-dasharray="0.9 1.3" opacity="0.40"/>
<path d="M603.6 125.0L606.1 133.2L608.2 141.4L609.7 149.6L610.9 157.9L611.7 166.1L612.1 174.3L612.3 182.5L612.4 190.7L612.4 198.9L612.5 207.1L612.6 215.4L613.0 223.6L613.8 231.8L614.8 240.0" fill="none" stroke="#7fbfd0" stroke-width="0.8" stroke-dasharray="0.9 1.3" opacity="0.40"/>
<path d="M606.1 125.0L608.4 133.2L610.4 141.4L611.9 149.6L612.9 157.9L613.6 166.1L614.0 174.3L614.2 182.5L614.2 190.7L614.2 198.9L614.3 207.1L614.5 215.4L615.0 223.6L615.8 231.8L616.9 240.0" fill="none" stroke="#7fbfd0" stroke-width="0.8" stroke-dasharray="0.9 1.3" opacity="0.40"/>
<path d="M608.5 125.0L610.7 133.2L612.6 141.4L613.9 149.6L614.9 157.9L615.5 166.1L615.9 174.3L616.0 182.5L616.0 190.7L616.0 198.9L616.1 207.1L616.4 215.4L616.9 223.6L617.8 231.8L619.1 240.0" fill="none" stroke="#7fbfd0" stroke-width="0.8" stroke-dasharray="0.9 1.3" opacity="0.40"/>
<path d="M610.8 125.0L613.0 133.2L614.7 141.4L616.0 149.6L616.9 157.9L617.4 166.1L617.7 174.3L617.8 182.5L617.8 190.7L617.8 198.9L618.0 207.1L618.3 215.4L618.9 223.6L619.9 231.8L621.2 240.0" fill="none" stroke="#7fbfd0" stroke-width="0.8" stroke-dasharray="0.9 1.3" opacity="0.40"/>
<path d="M613.2 125.0L615.2 133.2L616.9 141.4L618.0 149.6L618.8 157.9L619.3 166.1L619.5 174.3L619.6 182.5L619.6 190.7L619.7 198.9L619.8 207.1L620.2 215.4L620.9 223.6L622.0 231.8L623.4 240.0" fill="none" stroke="#7fbfd0" stroke-width="0.8" stroke-dasharray="0.9 1.3" opacity="0.40"/>
<path d="M615.5 125.0L617.5 133.2L619.0 141.4L620.1 149.6L620.8 157.9L621.2 166.1L621.4 174.3L621.4 182.5L621.4 190.7L621.5 198.9L621.7 207.1L622.1 215.4L622.9 223.6L624.1 231.8L625.6 240.0" fill="none" stroke="#7fbfd0" stroke-width="0.8" stroke-dasharray="0.9 1.3" opacity="0.40"/>
</g>
</g>
<path d="M97.20 142.70A67.4 67.4 0 1 1 51.06 259.23L73.45 235.40A34.7 34.7 0 1 0 97.20 175.40Z" fill="#1a82c8"/>
<path d="M51.06 259.23A67.4 67.4 0 0 1 97.20 142.70L97.20 175.40A34.7 34.7 0 0 0 73.45 235.40Z" fill="#d9e0e3"/>
<line x1="97.20" y1="176.40" x2="97.20" y2="141.70" stroke="#fff" stroke-width="1.5"/>
<line x1="74.13" y1="234.67" x2="50.38" y2="259.96" stroke="#fff" stroke-width="1.5"/>
<path d="M300.50 142.80A67.4 67.4 0 1 1 237.83 235.01L268.24 222.97A34.7 34.7 0 1 0 300.50 175.50Z" fill="#aa9867"/>
<path d="M237.83 235.01A67.4 67.4 0 0 1 300.50 142.80L300.50 175.50A34.7 34.7 0 0 0 268.24 222.97Z" fill="#d9e0e3"/>
<line x1="300.50" y1="176.50" x2="300.50" y2="141.80" stroke="#fff" stroke-width="1.5"/>
<line x1="269.17" y1="222.61" x2="236.90" y2="235.38" stroke="#fff" stroke-width="1.5"/>
<path d="M503.60 142.80A67.4 67.4 0 1 1 440.93 185.39L471.34 197.43A34.7 34.7 0 1 0 503.60 175.50Z" fill="#022842"/>
<path d="M440.93 185.39A67.4 67.4 0 0 1 503.60 142.80L503.60 175.50A34.7 34.7 0 0 0 471.34 197.43Z" fill="#d9e0e3"/>
<line x1="503.60" y1="176.50" x2="503.60" y2="141.80" stroke="#fff" stroke-width="1.5"/>
<line x1="472.27" y1="197.79" x2="440.00" y2="185.02" stroke="#fff" stroke-width="1.5"/>
</svg>
<div id="title" class="abs">Today’s Analyst Tools and Processes Are Insufficient</div>
<div id="sub" class="abs">Analysts need help with data analytics, but few are satisfied with the results</div>
<div id="p1" class="abs pct">62%</div>
<div id="p2" class="abs pct">69%</div>
<div id="p3" class="abs pct">81%</div>
<div id="r1" class="rule"></div>
<div id="r2" class="rule"></div>
<div id="r3" class="rule"></div>
<div id="c1" class="abs cap">Have to depend on others<br>within their organization to<br>perform at least some steps<br>in the analytic process</div>
<div id="c2" class="abs cap">Are not satisfied with the<br>quality of the final output</div>
<div id="c3" class="abs cap">Are not satisfied with the<br>overall speed of the<br>analytic process</div>
<div id="src" class="abs">Source: Harvard Business Review Analytic Services, Uncovering the Keys to Becoming Truly Analytics-Driven, May 8, 2018.</div>
<div id="pg" class="abs">5</div>
<div id="conf" class="abs">Confidential</div>
<div id="bar" class="abs">|</div>
<div id="copy" class="abs">©2021 Alteryx, Inc.</div>
<div id="logo" class="abs">alteryx</div>
<div id="logobar"></div>
</body>
</html>
